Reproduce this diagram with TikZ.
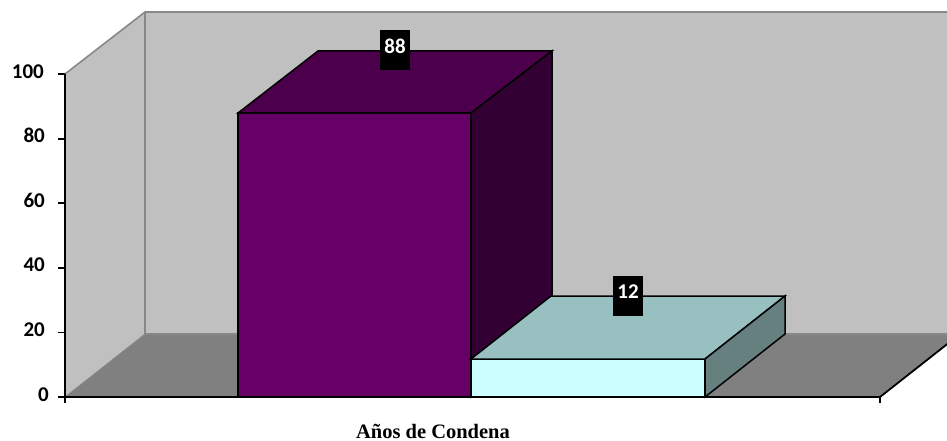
\documentclass[tikz,border=0pt]{standalone}
\usepackage{fontspec}
\setmainfont{Liberation Serif}
\newfontfamily\calib{Carlito}
\definecolor{wallgray}{HTML}{C0C0C0}
\definecolor{floorgray}{HTML}{808080}
\definecolor{edgegray}{HTML}{888888}
\definecolor{barAfront}{HTML}{660066}
\definecolor{barAtop}{HTML}{4C004C}
\definecolor{barAside}{HTML}{330033}
\definecolor{barBfront}{HTML}{CCFFFF}
\definecolor{barBtop}{HTML}{99C0C0}
\definecolor{barBside}{HTML}{668080}
\tikzset{
  wallface/.style={fill=wallgray},
  floorface/.style={fill=floorgray},
  walledge/.style={draw=edgegray, line width=1.6pt},
  barface/.style={draw=black, line width=1.5pt, line join=miter},
  axisline/.style={draw=black, line width=1.8pt},
  ticklabel/.style={font=\calib\bfseries\fontsize{21}{24}\selectfont, anchor=east, inner sep=0pt, text height=0.63em, text depth=0pt},
  valbox/.style={fill=black, text=white, font=\calib\bfseries\fontsize{21}{24}\selectfont, minimum width=30pt, minimum height=40pt, inner sep=0pt, text height=0.63em, text depth=0pt},
  axtitle/.style={font=\bfseries\fontsize{20.5}{24}\selectfont, anchor=base, inner sep=0pt}
}
\begin{document}
\begin{tikzpicture}[x=1pt,y=-1pt]
\useasboundingbox (0,0) rectangle (947,441);
\begin{scope}
  \clip (0,0) rectangle (947,441);
  % walls and floor
  \fill[wallface] (145,12) rectangle (960,334);
  \fill[wallface] (65,74) -- (145,12) -- (145,334) -- (65,397) -- cycle;
  \fill[floorface] (65,397) -- (145,334) -- (960,334) -- (880,397) -- cycle;
  \draw[walledge] (65,74) -- (145,12) -- (960,12);
  \draw[walledge] (145,12) -- (145,334) -- (960,334);
  \draw[draw=edgegray, line width=0.8pt] (65,397) -- (145,334);
  % right floor edge
  \coordinate (fr) at (880,397);
  \coordinate (br) at (960,334);
  \draw[axisline] (fr) -- (br);
\end{scope}
% bar 1 (88)
\fill[barAfront] (238,113) rectangle (471,397);
\draw[barface, fill=barAtop] (238,113) -- (318,51) -- (552,51) -- (471,113) -- cycle;
\draw[barface, fill=barAside] (471,113) -- (552,51) -- (552,334) -- (471,397) -- cycle;
\draw[barface] (238,397) -- (238,113) -- (471,113) -- (471,397);
% bar 2 (12)
\draw[barface, fill=barBfront] (471,359) rectangle (705,397);
\draw[barface, fill=barBtop] (471,359) -- (551,296) -- (785,296) -- (705,359) -- cycle;
\draw[barface, fill=barBside] (705,359) -- (785,296) -- (785,334) -- (705,397) -- cycle;
% axes
\draw[axisline] (65,74) -- (65,397) -- (880,397);
\foreach \yy in {74,138.6,203.2,267.8,332.4,397} \draw[axisline] (58,\yy) -- (65,\yy);
\draw[axisline] (65,397) -- (65,403);
\draw[axisline] (880,397) -- (880,403);
% tick labels
\node[ticklabel] (t100) at (44,75) {100};
\node[ticklabel] (t80) at (45,139.6) {80};
\node[ticklabel] (t60) at (45,204.2) {60};
\node[ticklabel] (t40) at (45,268.8) {40};
\node[ticklabel] (t20) at (45,333.4) {20};
\node[ticklabel] (t0) at (49,398) {0};
% value labels
\node[valbox] (v88) at (395,50) {88};
\node[valbox] (v12) at (628,295.5) {12};
% axis title
\node[axtitle] (title) at (433,438) {Años de Condena};
\end{tikzpicture}
\end{document}
